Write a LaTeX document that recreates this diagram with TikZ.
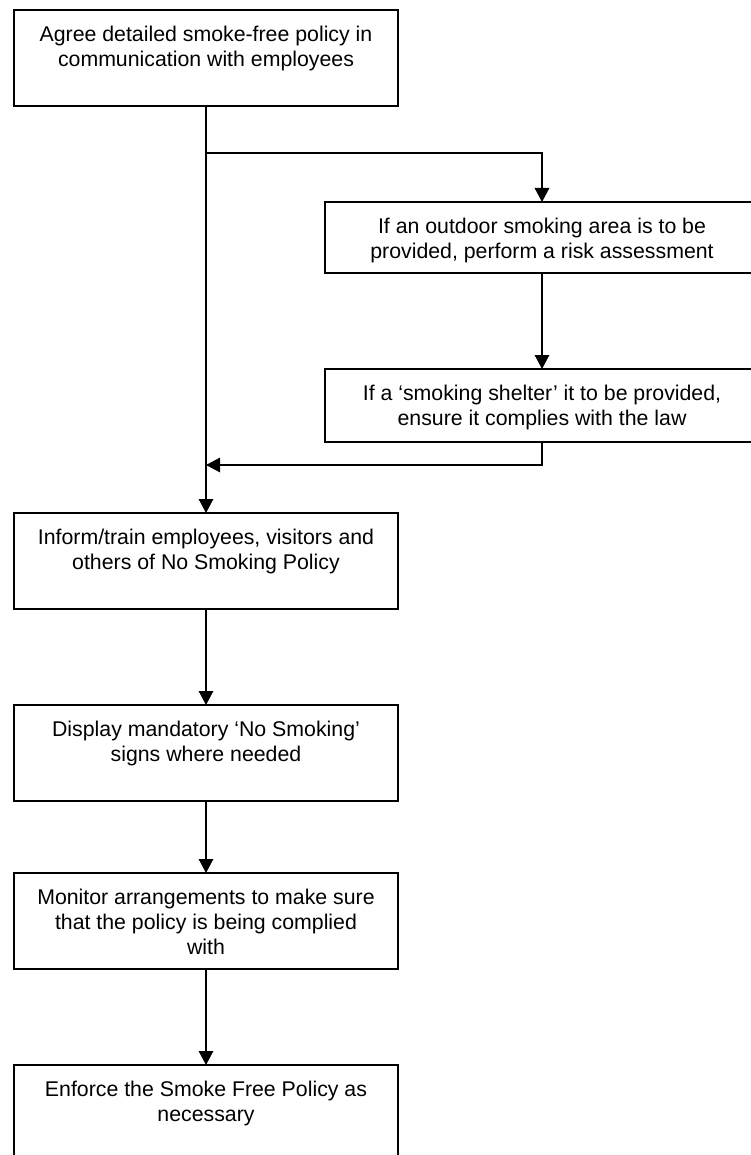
\documentclass[tikz,border=0pt]{standalone}
\usepackage{fontspec}
\setmainfont{Liberation Sans}
\usetikzlibrary{arrows.meta}
\begin{document}
\begin{tikzpicture}[x=1pt,y=-1pt,
  stepbox/.style={draw=black, line width=1.5pt, rectangle, inner sep=0pt, outer sep=0pt, anchor=north},
  wide/.style={stepbox, minimum width=384pt, minimum height=96pt},
  side/.style={stepbox, minimum width=434pt},
  lbl/.style={anchor=north, inner sep=0pt, align=center, font=\fontsize{21.3pt}{25pt}\selectfont},
  conn/.style={line width=1.5pt},
  flow/.style={conn, -{Triangle[length=14pt,width=14.5pt]}}]
\useasboundingbox (0,0) rectangle (751,1155);
\clip (0,0) rectangle (751,1155);
\fill[white] (0,0) rectangle (751,1155);

% main column
\node[wide] (b1) at (206,10) {};
\node[wide] (b4) at (206,513) {};
\node[wide] (b5) at (206,705) {};
\node[wide] (b6) at (206,873) {};
\node[wide, minimum height=100pt] (b7) at (206,1065) {};

% optional branch on the right
\node[side, minimum height=71pt] (b2) at (542,202) {};
\node[side, minimum height=73pt] (b3) at (542,369) {};

% box texts, set from the top of each box
\node[lbl] (t1) at ([yshift=-15.5pt]b1.north) {Agree detailed smoke-free policy in\\communication with employees};
\node[lbl] (t2) at ([yshift=-15.5pt]b2.north) {If an outdoor smoking area is to be\\provided, perform a risk assessment};
\node[lbl] (t3) at ([yshift=-15.5pt]b3.north) {If a ‘smoking shelter’ it to be provided,\\ensure it complies with the law};
\node[lbl] (t4) at ([yshift=-15.5pt]b4.north) {Inform/train employees, visitors and\\others of No Smoking Policy};
\node[lbl] (t5) at ([yshift=-15.5pt]b5.north) {Display mandatory ‘No Smoking’\\signs where needed};
\node[lbl] (t6) at ([yshift=-15.5pt]b6.north) {Monitor arrangements to make sure\\that the policy is being complied\\with};
\node[lbl] (t7) at ([yshift=-15.5pt]b7.north) {Enforce the Smoke Free Policy as\\necessary};

% branch and merge points on the main line
\coordinate (split) at (206,153);
\coordinate (merge) at (206,465);

% connectors
\draw[flow] (b1.south) -- (b4.north);
\draw[flow] (split) -| (b2.north);
\draw[flow] (b2.south) -- (b3.north);
\draw[flow] (b3.south) |- (merge);
\draw[flow] (b4.south) -- (b5.north);
\draw[flow] (b5.south) -- (b6.north);
\draw[flow] (b6.south) -- (b7.north);
\end{tikzpicture}
\end{document}
